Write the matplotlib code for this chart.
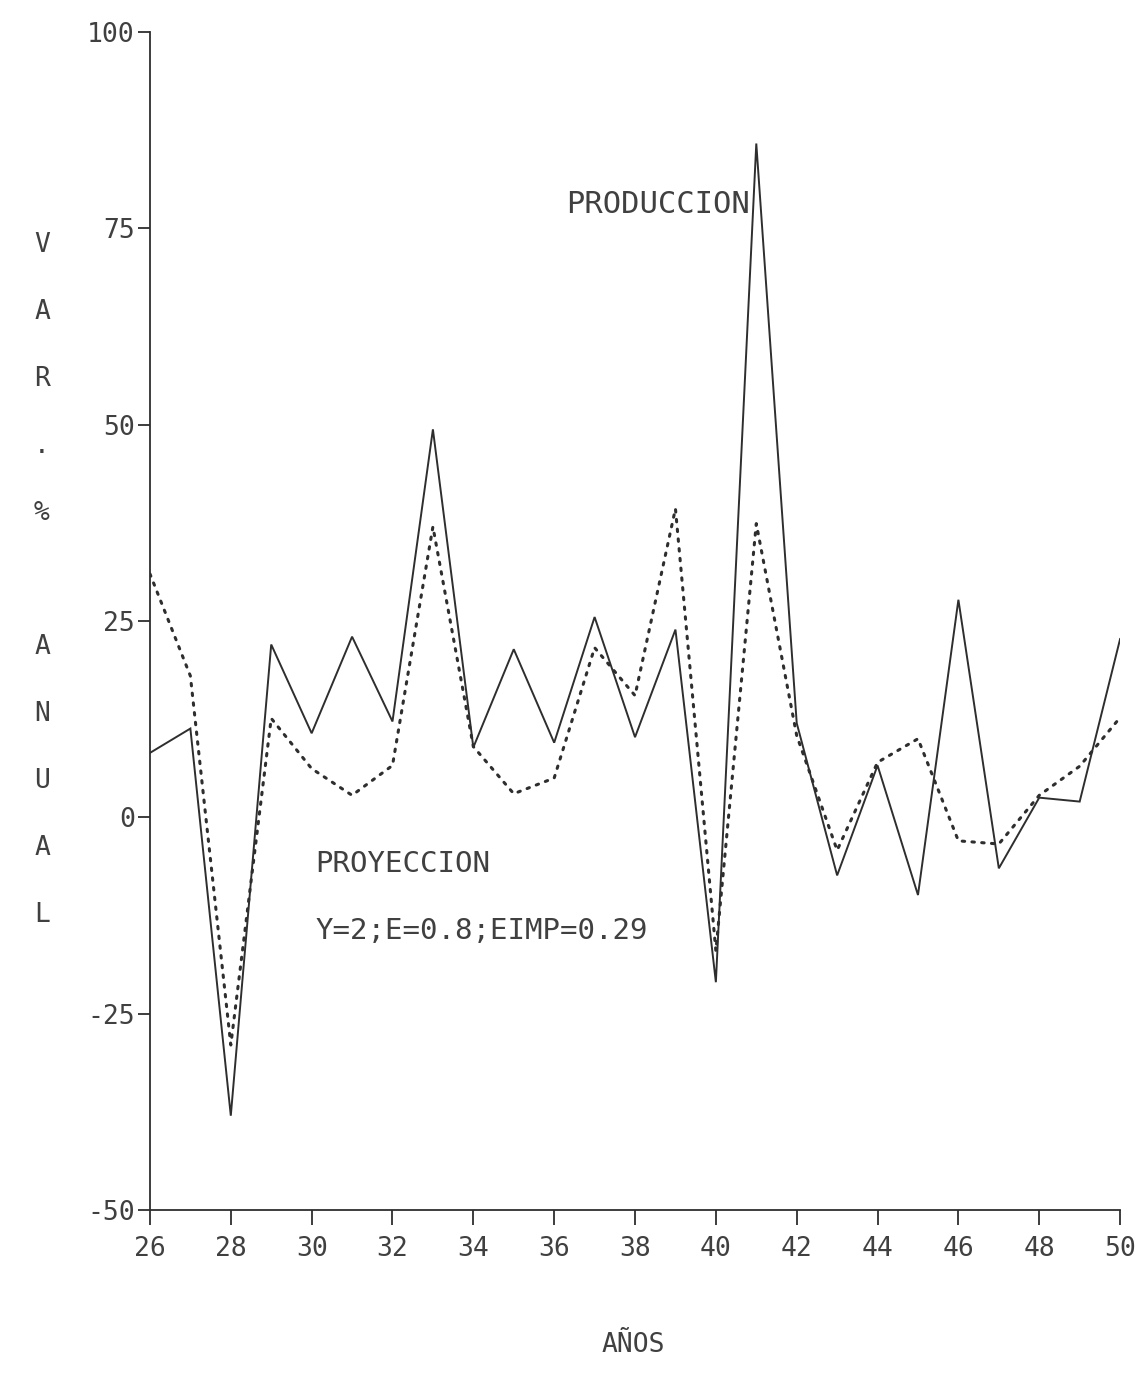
import matplotlib
matplotlib.use("Agg")
import matplotlib.pyplot as plt

years = list(range(26, 51))
produccion = [8.2, 11.3, -38.0, 22.0, 10.7, 23.0, 12.2, 49.4, 8.9, 21.4, 9.5, 25.5, 10.2,
              23.9, -21.0, 85.8, 12.0, -7.4, 6.6, -9.9, 27.7, -6.5, 2.5, 2.0, 22.7]
proyeccion = [31.0, 18.0, -29.0, 12.6, 6.2, 2.8, 6.6, 37.0, 9.0, 3.0, 5.0, 21.6, 15.5,
              39.3, -17.0, 37.4, 10.4, -4.2, 7.0, 10.0, -3.0, -3.4, 2.8, 6.5, 12.7]
xticks = list(range(26, 51, 2))
yticks = [-50, -25, 0, 25, 50, 75, 100]
ylabel_text = "VAR.% ANUAL"
xlabel_text = "AÑOS"
label_prod = "PRODUCCION"
label_proy = "PROYECCION"
label_params = "Y=2;E=0.8;EIMP=0.29"

ink = "#2e2e2e"
text_ink = "#404040"
font = "DejaVu Sans Mono"

fig = plt.figure(figsize=(11.36, 13.85), dpi=100)
ax = fig.add_axes([0.132, 0.1264, 0.854, 0.8505])

ax.plot(years, produccion, color=ink, lw=1.4, solid_joinstyle="miter")
ax.plot(years, proyeccion, color=ink, lw=2.2, linestyle=(0, (0.8, 2.4)),
        dash_capstyle="round")

ax.set_xlim(26, 50)
ax.set_ylim(-50, 100)
for s in ["top", "right"]:
    ax.spines[s].set_visible(False)
for s in ["left", "bottom"]:
    ax.spines[s].set_color(ink)
    ax.spines[s].set_linewidth(1.3)

ax.set_xticks(xticks)
ax.set_yticks(yticks)
ax.set_xticklabels([str(t) for t in xticks], fontsize=19, family=font, color=text_ink)
ax.set_yticklabels([str(t) for t in yticks], fontsize=19, family=font, color=text_ink)
ax.tick_params(axis="x", direction="out", length=11, width=1.3, color=ink, pad=8)
ax.tick_params(axis="y", direction="out", length=9, width=1.3, color=ink, pad=2)

ax.text(40.85, 78, label_prod, ha="right", va="center", fontsize=22, family=font, color=text_ink)
ax.text(30.1, -6, label_proy, ha="left", va="center", fontsize=21, family=font, color=text_ink)
ax.text(30.1, -14.5, label_params, ha="left", va="center", fontsize=21, family=font, color=text_ink)

# vertical stacked y-label
x_fig = 42 / 1136
y0_px, step_px = 245, 67
for i, ch in enumerate(ylabel_text):
    if ch == " ":
        continue
    fig.text(x_fig, 1 - (y0_px + i * step_px) / 1385, ch, ha="center", va="center",
             fontsize=19, family=font, color=text_ink)

fig.text(633 / 1136, 1 - 1345 / 1385, xlabel_text, ha="center", va="center",
         fontsize=19, family=font, color=text_ink)

fig.savefig("out.png", dpi=100, facecolor="white")
